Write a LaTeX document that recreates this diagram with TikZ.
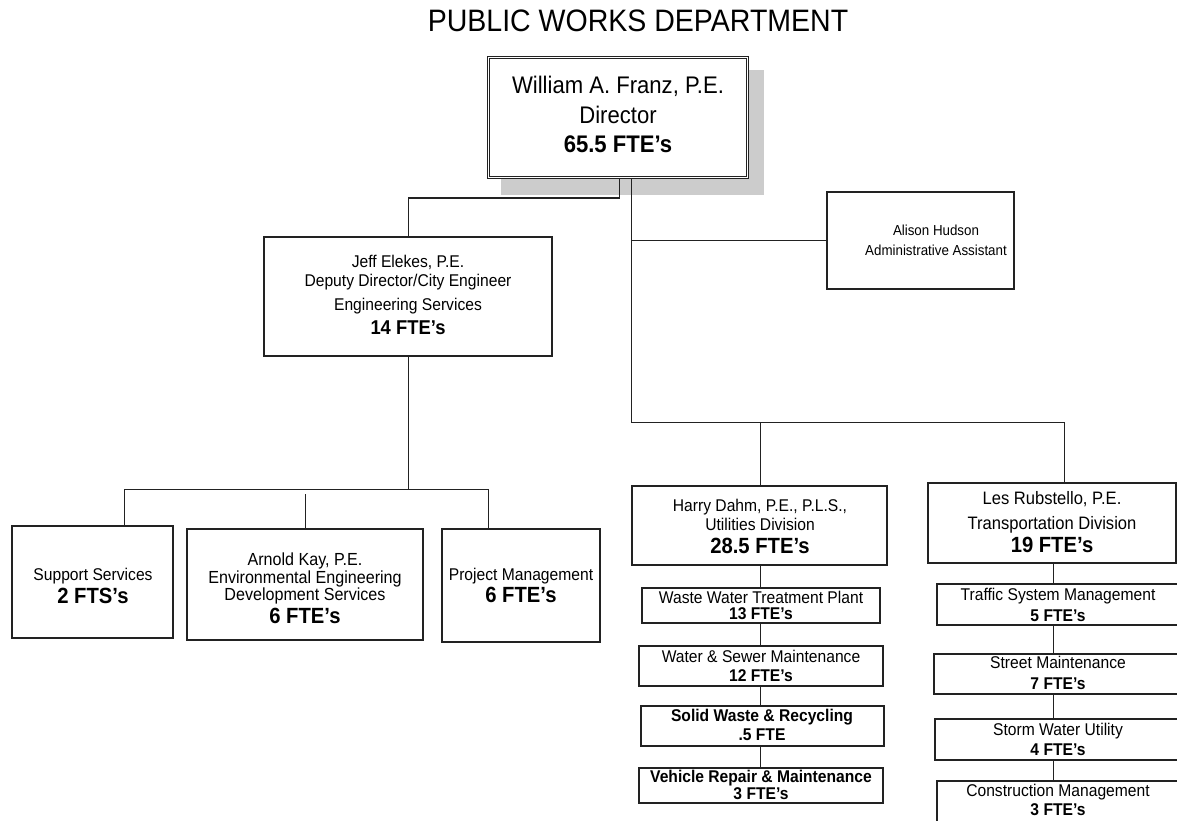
\documentclass[tikz,border=0pt]{standalone}
\usepackage{fontspec}
\setmainfont{Liberation Sans}[FakeStretch=0.92]
\usetikzlibrary{calc}
\definecolor{linec}{HTML}{222222}
\definecolor{shadowc}{HTML}{CCCCCC}
\newcommand\ftr[1]{\fontsize{#1}{#1}\selectfont}
\newcommand\ftb[1]{\fontsize{#1}{#1}\selectfont\bfseries}
\newcommand\mkbox[6][]{\node[box,#1,minimum width={(#5)-(#3)},minimum height={(#6)-(#4)}] (#2) at ({((#3)+(#5))/2},{((#4)+(#6))/2}) {};}
\newcommand\tline[5]{\node[txt,font={#4}] (#1) at (#2,#3) {#5};}
\begin{document}
\begin{tikzpicture}[x=1pt,y=-1pt,
  box/.style={draw=linec,line width=1.2pt,fill=white,inner sep=0pt,outer sep=0pt},
  conn/.style={draw=linec,line width=1pt},
  txt/.style={inner sep=0pt,anchor=base,text=black}]
\useasboundingbox (0,0) rectangle (1177,821);
\clip (0,0) rectangle (1177,821);

\tline{title}{638}{32}{\ftr{31}}{PUBLIC WORKS DEPARTMENT}

% director
\fill[shadowc] (501,70) rectangle (764,195);
\mkbox[double=white,double distance=1.6pt,line width=0.9pt]{dir}{488.5}{57.5}{747.5}{177.5}
\tline{dirA}{618}{94}{\ftr{24}}{William A. Franz, P.E.}
\tline{dirB}{618}{124}{\ftr{24}}{Director}
\tline{dirC}{618}{153}{\ftb{24}}{65.5 FTE’s}

% deputy
\mkbox{jeff}{264}{237}{552}{356}
\tline{jeffA}{408}{267}{\ftr{17}}{Jeff Elekes, P.E.}
\tline{jeffB}{408}{286}{\ftr{17}}{Deputy Director/City Engineer}
\tline{jeffC}{408}{310}{\ftr{17}}{Engineering Services}
\tline{jeffD}{408}{334}{\ftb{20}}{14 FTE’s}

% assistant
\mkbox{alison}{827}{192}{1014}{289}
\tline{alisonA}{936}{235}{\ftr{14.5}}{Alison Hudson}
\tline{alisonB}{936}{255}{\ftr{14.5}}{Administrative Assistant}

% engineering units
\mkbox{support}{12}{526}{173}{638}
\tline{supportA}{93}{580}{\ftr{17}}{Support Services}
\tline{supportB}{93}{603}{\ftb{22}}{2 FTS’s}

\mkbox{arnold}{187}{529}{423}{640}
\tline{arnoldA}{305}{565}{\ftr{17.5}}{Arnold Kay, P.E.}
\tline{arnoldB}{305}{583}{\ftr{17.5}}{Environmental Engineering}
\tline{arnoldC}{305}{600}{\ftr{17.5}}{Development Services}
\tline{arnoldD}{305}{623}{\ftb{22}}{6 FTE’s}

\mkbox{project}{442}{529}{600}{642}
\tline{projectA}{521}{580}{\ftr{17}}{Project Management}
\tline{projectB}{521}{602}{\ftb{22}}{6 FTE’s}

% utilities
\mkbox{harry}{632}{486}{887}{565}
\tline{harryA}{760}{511}{\ftr{17}}{Harry Dahm, P.E., P.L.S.,}
\tline{harryB}{760}{530}{\ftr{17}}{Utilities Division}
\tline{harryC}{760}{553}{\ftb{22}}{28.5 FTE’s}

\mkbox{waste}{642}{588}{880}{623}
\tline{wasteA}{761}{603}{\ftr{17}}{Waste Water Treatment Plant}
\tline{wasteB}{761}{619.5}{\ftb{17}}{13 FTE’s}

\mkbox{water}{639}{646}{883}{686}
\tline{waterA}{761}{662}{\ftr{17}}{Water \& Sewer Maintenance}
\tline{waterB}{761}{681}{\ftb{17}}{12 FTE’s}

\mkbox{solid}{641}{706}{884}{746}
\tline{solidA}{762}{721}{\ftb{17}}{Solid Waste \& Recycling}
\tline{solidB}{762}{740}{\ftb{17}}{.5 FTE}

\mkbox{vehicle}{639}{768}{883}{803}
\tline{vehicleA}{761}{782}{\ftb{17}}{Vehicle Repair \& Maintenance}
\tline{vehicleB}{761}{799.5}{\ftb{17}}{3 FTE’s}

% transportation
\mkbox{les}{928}{483}{1176}{563}
\tline{lesA}{1052}{504}{\ftr{18}}{Les Rubstello, P.E.}
\tline{lesB}{1052}{529}{\ftr{18}}{Transportation Division}
\tline{lesC}{1052}{552}{\ftb{22}}{19 FTE’s}

\mkbox{traffic}{937}{584}{1180}{625}
\tline{trafficA}{1058}{600}{\ftr{17}}{Traffic System Management}
\tline{trafficB}{1058}{621}{\ftb{17}}{5 FTE’s}

\mkbox{street}{934}{654}{1180}{694}
\tline{streetA}{1058}{668}{\ftr{17}}{Street Maintenance}
\tline{streetB}{1058}{689}{\ftb{17}}{7 FTE’s}

\mkbox{storm}{935}{719}{1180}{760}
\tline{stormA}{1058}{735}{\ftr{17}}{Storm Water Utility}
\tline{stormB}{1058}{755}{\ftb{17}}{4 FTE’s}

\mkbox{constr}{937}{781}{1180}{830}
\tline{constrA}{1058}{796}{\ftr{17}}{Construction Management}
\tline{constrB}{1058}{815}{\ftb{17}}{3 FTE’s}

% connectors
\coordinate (jl) at (408,198);
\coordinate (tr) at (631,422);
\coordinate (trr) at (1064,422);
\coordinate (ta) at (631,240.5);
\coordinate (bl) at (124,489);
\coordinate (br) at (488,489);
\coordinate (ux) at (760,0);
\coordinate (lx) at (1053,0);

\draw[conn] ($(dir.south)+(1,1.7)$) |- (jl) -- (jeff.north);
\draw[conn] ($(dir.south)+(13,1.7)$) -- (tr) -- (trr) -- (les.north -| trr);
\draw[conn] (ta) -- (alison.west);
\draw[conn] (harry.north -| ux) -- (tr -| ux);
\draw[conn] (jeff.south) -- (jeff.south |- bl);
\draw[conn] (support.north -| bl) -- (bl) -- (br) -- (project.north -| br);
\draw[conn] (arnold.north) -- ++(0,-35);

\draw[conn] (harry.south -| ux) -- (waste.north -| ux);
\draw[conn] (waste.south -| ux) -- (water.north -| ux);
\draw[conn] (water.south -| ux) -- (solid.north -| ux);
\draw[conn] (solid.south -| ux) -- (vehicle.north -| ux);

\draw[conn] (les.south -| lx) -- (traffic.north -| lx);
\draw[conn] (traffic.south -| lx) -- (street.north -| lx);
\draw[conn] (street.south -| lx) -- (storm.north -| lx);
\draw[conn] (storm.south -| lx) -- (constr.north -| lx);
\end{tikzpicture}
\end{document}
